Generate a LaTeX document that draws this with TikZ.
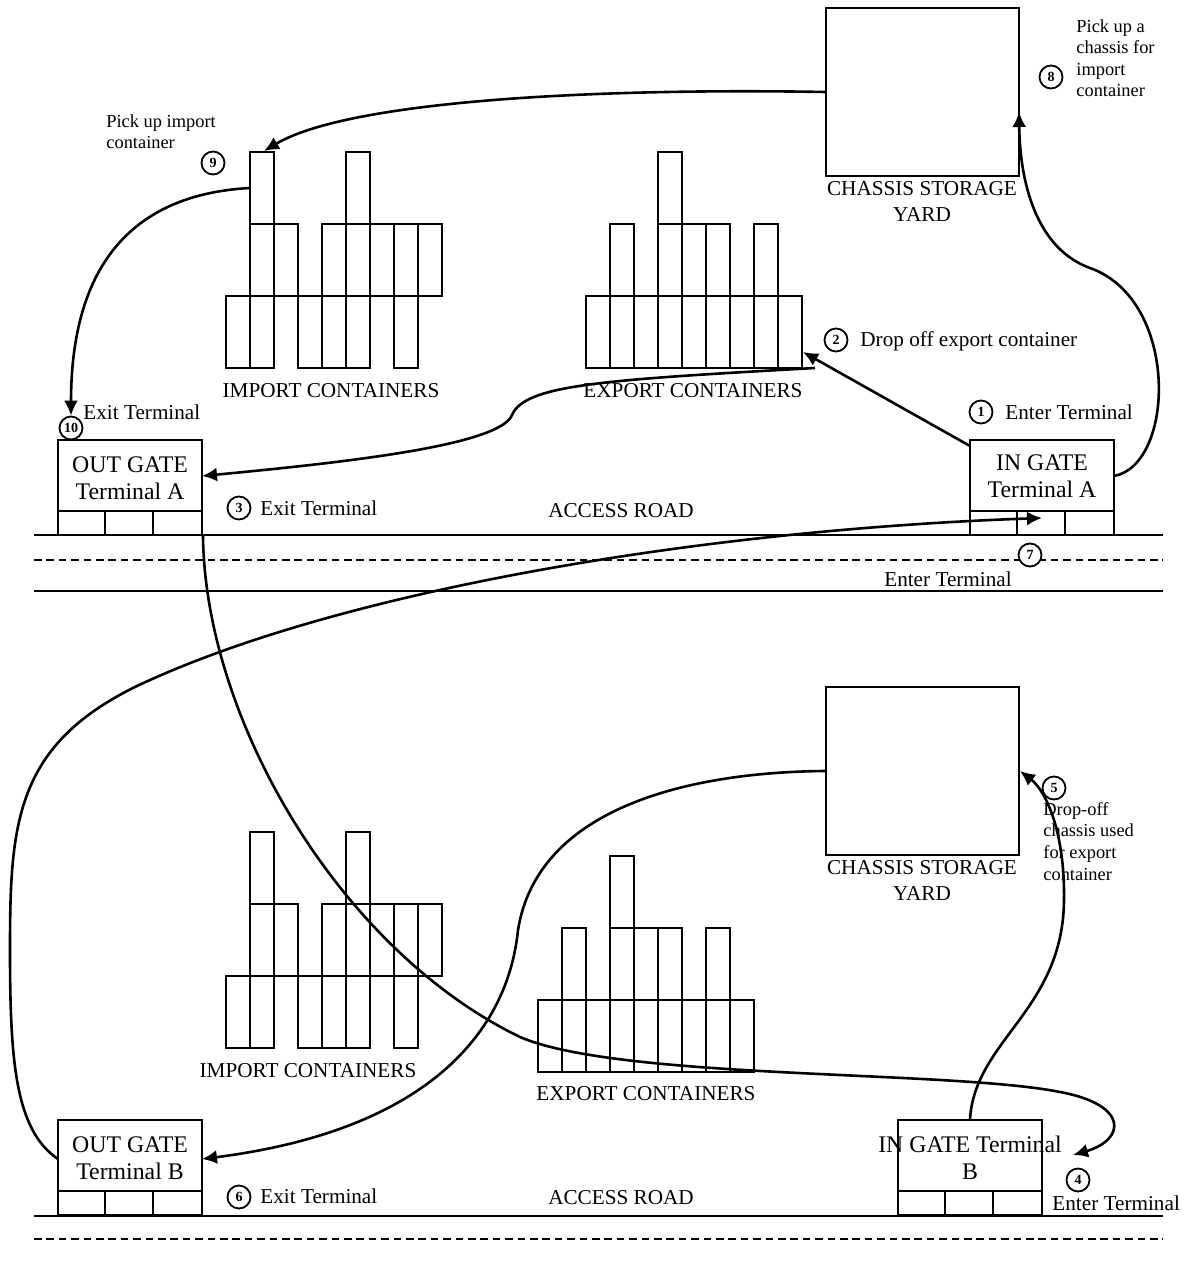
\documentclass[tikz,border=0pt]{standalone}
\usepackage{fontspec}
\setmainfont{Liberation Serif}
\usetikzlibrary{arrows.meta,calc}

\tikzset{
  boxline/.style={line width=1pt},
  gatebox/.style={draw, line width=1pt, rectangle, inner sep=0pt, minimum width=72pt, minimum height=47.5pt},
  yardbox/.style={draw, line width=1pt, rectangle, inner sep=0pt, minimum width=96.5pt, minimum height=84pt},
  flow/.style={line width=1.3pt, -{Latex[length=7.5pt,width=7pt]}},
  stepnum/.style={circle, draw, line width=0.9pt, fill=white, inner sep=0pt, minimum size=11.5pt, font=\fontsize{7}{8}\selectfont\bfseries},
  gatetext/.style={font=\fontsize{11.9}{13.5}\selectfont, align=center, inner sep=0pt},
  lbl/.style={font=\fontsize{10.6}{12.5}\selectfont, inner sep=0pt},
  yardlbl/.style={font=\fontsize{10.6}{13}\selectfont, align=center, inner sep=0pt},
  small/.style={font=\fontsize{9.2}{10.8}\selectfont, align=left, inner sep=0pt},
  road/.style={line width=1pt},
  roaddash/.style={line width=1pt, dash pattern=on 3.8pt off 2.4pt},
}

% three cells along the foot of a gate
\newcommand\gatecells[1]{%
  \draw[boxline] ($(#1.north west)+(0,72)$) -- ($(#1.north east)+(0,72)$)
    ($(#1.south west)+(48,0)$) -- ($(#1.north west)+(48,72)$)
    ($(#1.south west)+(96,0)$) -- ($(#1.north west)+(96,72)$);}

% a stack of containers: left x, bottom y, list of column/row
\newcommand\boxstack[3]{%
  \foreach \c/\r in {#3} \draw[boxline] (#1+\c*24, #2-\r*72) rectangle ++(24,-72);}

\begin{document}
\begin{tikzpicture}[x=0.5pt, y=-0.5pt]
\useasboundingbox (0,0) rectangle (1188,1262);

% ---------- roads ----------
\draw[road] (34,535) -- (1163,535);
\draw[roaddash] (34,560) -- (1163,560);
\draw[road] (34,591) -- (1163,591);
\draw[road] (34,1216) -- (1163,1216);
\draw[roaddash] (34,1239) -- (1163,1239);

% ---------- terminal A ----------
\node[yardbox] (yardA) at (922.5,92) {};
\node[yardlbl, anchor=base] (yardAtxt) at (922,222) {CHASSIS STORAGE\\YARD};

\boxstack{226}{367.7}{0/0,1/0,3/0,4/0,5/0,7/0,1/1,2/1,4/1,5/1,6/1,7/1,8/1,1/2,5/2}
\boxstack{586}{367.7}{0/0,1/0,2/0,3/0,4/0,5/0,6/0,7/0,8/0,1/1,3/1,4/1,5/1,7/1,3/2}
\node[lbl, anchor=base] (impAtxt) at (331,397) {IMPORT CONTAINERS};
\node[lbl, anchor=base] (expAtxt) at (693,397) {EXPORT CONTAINERS};

\node[gatebox] (gateOA) at (130,487.5) {};
\gatecells{gateOA}
\node[gatetext, anchor=base] (gateOAtxt) at (130,499) {OUT GATE\\Terminal A};
\node[gatebox] (gateIA) at (1042,487.5) {};
\gatecells{gateIA}
\node[gatetext, anchor=base] (gateIAtxt) at (1042,497) {IN GATE\\Terminal A};

\node[lbl, anchor=base] (roadA) at (621,517) {ACCESS ROAD};

% ---------- terminal B ----------
\node[yardbox] (yardB) at (922.5,771) {};
\node[yardlbl, anchor=base] (yardBtxt) at (922,900) {CHASSIS STORAGE\\YARD};

\boxstack{226}{1047.7}{0/0,1/0,3/0,4/0,5/0,7/0,1/1,2/1,4/1,5/1,6/1,7/1,8/1,1/2,5/2}
\boxstack{538.3}{1071.7}{0/0,1/0,2/0,3/0,4/0,5/0,6/0,7/0,8/0,1/1,3/1,4/1,5/1,7/1,3/2}
\node[lbl, anchor=base] (impBtxt) at (308,1077) {IMPORT CONTAINERS};
\node[lbl, anchor=base] (expBtxt) at (646,1100) {EXPORT CONTAINERS};

\node[gatebox] (gateOB) at (130,1167.5) {};
\gatecells{gateOB}
\node[gatetext, anchor=base] (gateOBtxt) at (130,1179) {OUT GATE\\Terminal B};
\node[gatebox] (gateIB) at (970,1167.5) {};
\gatecells{gateIB}
\node[gatetext, anchor=base] (gateIBtxt) at (970,1179) {IN GATE Terminal\\B};

\node[lbl, anchor=base] (roadB) at (621,1204) {ACCESS ROAD};

% ---------- numbered steps ----------
\node[stepnum] (n1) at (981,412) {1};
\node[lbl, anchor=base west] (t1) at (1005,419) {Enter Terminal};
\node[stepnum] (n2) at (836,340) {2};
\node[lbl, anchor=base west] (t2) at (860,347) {Drop off export container};
\node[stepnum] (n3) at (239,508) {3};
\node[lbl, anchor=base west] (t3) at (260,515) {Exit Terminal};
\node[stepnum] (n4) at (1078,1180) {4};
\node[lbl, anchor=base west] (t4) at (1052,1210) {Enter Terminal};
\node[stepnum] (n5) at (1054,788) {5};
\node[small, anchor=base west] (t5) at (1043,880) {Drop-off\\chassis used\\for export\\container};
\node[stepnum] (n6) at (239,1197) {6};
\node[lbl, anchor=base west] (t6) at (260,1203) {Exit Terminal};
\node[stepnum] (n7) at (1030,555) {7};
\node[lbl, anchor=base] (t7) at (948,586) {Enter Terminal};
\node[stepnum] (n8) at (1051,77) {8};
\node[small, anchor=base west] (t8) at (1076,97) {Pick up a\\chassis for\\import\\container};
\node[stepnum] (n9) at (213,163) {9};
\node[small, anchor=base west] (t9) at (106,149) {Pick up import\\container};
\node[stepnum] (n10) at (71,428) {10};
\node[lbl, anchor=base west] (t10) at (83,419) {Exit Terminal};

% ---------- connector ends ----------
\coordinate (impAtop) at (264,151);
\coordinate (impAside) at (250,188);
\coordinate (expAcorner) at (803,352);
\coordinate (expAfoot) at (815,368);
\coordinate (oaIn) at (202,476);
\coordinate (iaOut) at (1114,476);
\coordinate (yardAin) at (1019,112);
\coordinate (obOut) at (58,1159);
\coordinate (iaCell) at (1042,518);
\coordinate (obIn) at (202,1159);
\coordinate (ibArrive) at (1073,1155);
\coordinate (iaCorner) at (970,446);

% ---------- truck movements ----------
% 1 -> 2 : in gate A to export stack
\draw[flow] (iaCorner) -- (expAcorner);
% 2 -> 3 : export stack to out gate A
\draw[flow] (expAfoot) .. controls (600,380) and (525,385) .. (512,415)
  .. controls (500,445) and (350,462) .. (oaIn);
% 3 -> 4 : out gate A round to in gate B
\draw[flow] (gateOA.south east) .. controls (205,720) and (340,950) .. (520,1037)
  .. controls (620,1080) and (950,1070) .. (1060,1092)
  .. controls (1130,1105) and (1125,1140) .. (ibArrive);
% 4 -> 5 : in gate B to chassis yard B
\draw[flow] (gateIB.north) .. controls (975,1040) and (1063,1010) .. (1064,900)
  .. controls (1065,830) and (1045,790) .. (yardB.east);
% 5 -> 6 : chassis yard B to out gate B
\draw[flow] (yardB.west) .. controls (695,772) and (538,805) .. (518,930)
  .. controls (508,1030) and (430,1130) .. (obIn);
% 6 -> 7 : out gate B back to in gate A
\draw[flow] (obOut) .. controls (15,1130) and (10,1060) .. (10,950)
  .. controls (10,820) and (15,740) .. (150,680)
  .. controls (350,590) and (700,530) .. (iaCell);
% 7 -> 8 : in gate A to chassis yard A
\draw[flow] (iaOut) .. controls (1175,465) and (1180,300) .. (1090,268)
  .. controls (1040,250) and (1020,190) .. (yardAin);
% 8 -> 9 : chassis yard A to import stack
\draw[flow] (yardA.west) .. controls (600,88) and (350,100) .. (impAtop);
% 9 -> 10 : import stack to out gate A
\draw[flow] (impAside) .. controls (120,195) and (71,280) .. (n10.north);

\end{tikzpicture}
\end{document}
